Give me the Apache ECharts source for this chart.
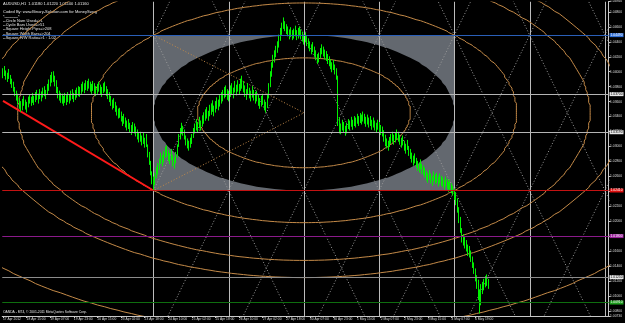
<!DOCTYPE html>
<html><head><meta charset="utf-8">
<script src="https://cdn.jsdelivr.net/npm/echarts@6/dist/echarts.min.js"></script>
<style>html,body{margin:0;padding:0;background:#000;}#c{width:625px;height:323px;}</style>
</head><body><div id="c"></div>
<script>
// ---- data ----
const timeLabels = ['17 Apr 2012','18 Apr 15:00','19 Apr 07:00','19 Apr 23:00','20 Apr 15:00','23 Apr 02:00','23 Apr 18:00','24 Apr 10:00','25 Apr 02:00','25 Apr 18:00','26 Apr 10:00','27 Apr 02:00','27 Apr 18:00','30 Apr 07:00','30 Apr 23:00','1 May 15:00','2 May 07:00','2 May 23:00','3 May 15:00','4 May 07:00','6 May 19:00'];
const barsPerLabel = 16;
const slotCount = 411;

const barHigh = [
1.0404,1.0407,1.0401,1.0398,1.0403,1.0395,1.0390,1.0386,1.0379,1.0374,
1.0370,1.0364,1.0360,1.0363,1.0367,1.0362,1.0359,1.0366,1.0369,1.0366,
1.0371,1.0367,1.0372,1.0375,1.0370,1.0376,1.0373,1.0378,1.0380,1.0375,
1.0383,1.0389,1.0395,1.0399,1.0400,1.0394,1.0388,1.0379,1.0374,1.0371,
1.0370,1.0367,1.0371,1.0368,1.0372,1.0369,1.0374,1.0376,1.0371,1.0375,
1.0378,1.0380,1.0379,1.0383,1.0386,1.0384,1.0388,1.0387,1.0390,1.0386,
1.0383,1.0387,1.0384,1.0380,1.0383,1.0386,1.0382,1.0379,1.0384,1.0386,
1.0380,1.0376,1.0372,1.0367,1.0362,1.0364,1.0359,1.0354,1.0350,1.0351,
1.0346,1.0340,1.0343,1.0338,1.0334,1.0336,1.0331,1.0328,1.0332,1.0330,
1.0326,1.0322,1.0318,1.0319,1.0314,1.0318,1.0311,1.0316,1.0302,1.0292,
1.0280,1.0266,1.0259,
1.0264,1.0272,1.0277,1.0283,1.0291,1.0288,1.0293,1.0299,1.0301,
1.0295,1.0291,1.0296,1.0288,1.0285,1.0292,1.0302,1.0316,1.0324,
1.0331,1.0327,1.0322,1.0314,1.0310,1.0307,1.0311,1.0316,1.0324,1.0330,
1.0336,1.0332,1.0339,1.0334,1.0341,1.0345,1.0349,1.0352,1.0347,1.0355,
1.0357,1.0361,1.0354,1.0360,1.0365,1.0362,1.0368,1.0372,1.0375,1.0379,
1.0381,1.0376,1.0374,1.0381,1.0384,1.0378,1.0387,1.0382,1.0388,1.0383,
1.0390,1.0394,1.0387,1.0381,1.0376,1.0384,1.0378,1.0374,1.0380,1.0375,
1.0372,1.0374,1.0368,1.0364,1.0367,1.0370,1.0362,1.0359,1.0370,1.0384,
1.0400,1.0412,1.0422,1.0428,1.0434,1.0440,1.0449,1.0458,1.0465,1.0472,
1.0467,1.0463,1.0460,1.0456,1.0459,1.0455,1.0457,1.0461,1.0455,1.0458,
1.0460,1.0456,1.0453,1.0449,1.0452,1.0447,1.0444,1.0440,1.0436,1.0439,
1.0433,1.0428,1.0423,1.0425,1.0431,1.0436,1.0433,1.0429,1.0427,1.0423,
1.0420,1.0416,1.0412,1.0415,1.0409,1.0404,1.0394,
1.0338,1.0330,1.0335,1.0332,1.0327,1.0331,1.0336,1.0334,1.0339,1.0335,
1.0340,1.0338,1.0343,1.0340,1.0344,1.0342,1.0346,1.0343,1.0339,1.0342,
1.0338,1.0340,1.0335,1.0338,1.0334,1.0331,1.0335,1.0332,1.0328,1.0326,
1.0321,1.0315,1.0310,1.0307,1.0312,1.0316,1.0319,1.0315,1.0318,1.0322,
1.0319,1.0315,1.0311,1.0314,1.0307,1.0303,1.0308,1.0300,1.0296,1.0291,
1.0287,1.0290,1.0284,1.0280,1.0278,1.0282,1.0276,1.0274,1.0271,1.0267,
1.0264,1.0268,1.0263,1.0260,1.0266,1.0262,1.0264,1.0259,1.0263,1.0260,
1.0258,1.0255,1.0259,1.0256,1.0252,1.0255,1.0250,1.0247,1.0243,1.0238,
1.0230,1.0218,1.0205,1.0190,1.0182,1.0178,1.0174,1.0168,1.0166,1.0160,
1.0152,1.0144,1.0136,1.0127,1.0121,1.0108,
1.0115,1.0118,1.0122,1.0126,1.0128,1.0122];

const barLow = [
1.0392,1.0395,1.0390,1.0387,1.0391,1.0384,1.0379,1.0374,1.0368,1.0362,
1.0357,1.0351,1.0347,1.0349,1.0355,1.0350,1.0346,1.0353,1.0358,1.0355,
1.0359,1.0356,1.0360,1.0363,1.0358,1.0364,1.0361,1.0366,1.0368,1.0364,
1.0370,1.0375,1.0381,1.0386,1.0387,1.0381,1.0372,1.0365,1.0362,1.0359,
1.0358,1.0355,1.0359,1.0356,1.0360,1.0358,1.0362,1.0364,1.0360,1.0363,
1.0366,1.0368,1.0367,1.0371,1.0374,1.0372,1.0376,1.0375,1.0378,1.0374,
1.0371,1.0375,1.0372,1.0368,1.0371,1.0374,1.0370,1.0367,1.0372,1.0374,
1.0368,1.0364,1.0360,1.0355,1.0350,1.0352,1.0347,1.0342,1.0338,1.0339,
1.0334,1.0328,1.0331,1.0326,1.0322,1.0324,1.0319,1.0316,1.0320,1.0318,
1.0314,1.0310,1.0306,1.0307,1.0302,1.0304,1.0299,1.0300,1.0286,1.0276,
1.0262,1.0250,1.0241,
1.0249,1.0258,1.0263,1.0269,1.0277,1.0274,1.0279,1.0285,1.0287,
1.0281,1.0277,1.0282,1.0274,1.0271,1.0278,1.0286,1.0300,1.0310,
1.0317,1.0315,1.0310,1.0302,1.0298,1.0295,1.0299,1.0304,1.0312,1.0318,
1.0322,1.0320,1.0325,1.0322,1.0327,1.0331,1.0335,1.0338,1.0335,1.0341,
1.0343,1.0347,1.0341,1.0346,1.0351,1.0349,1.0354,1.0358,1.0361,1.0365,
1.0367,1.0363,1.0361,1.0367,1.0370,1.0365,1.0373,1.0369,1.0374,1.0370,
1.0375,1.0378,1.0373,1.0367,1.0363,1.0370,1.0365,1.0361,1.0366,1.0362,
1.0358,1.0361,1.0355,1.0351,1.0354,1.0357,1.0349,1.0346,1.0352,1.0365,
1.0380,1.0394,1.0406,1.0413,1.0420,1.0426,1.0433,1.0442,1.0450,1.0458,
1.0455,1.0451,1.0448,1.0444,1.0447,1.0443,1.0445,1.0448,1.0443,1.0445,
1.0448,1.0444,1.0441,1.0437,1.0440,1.0435,1.0432,1.0428,1.0424,1.0427,
1.0421,1.0416,1.0411,1.0413,1.0419,1.0424,1.0421,1.0417,1.0415,1.0411,
1.0408,1.0404,1.0400,1.0403,1.0397,1.0390,1.0328,
1.0318,1.0317,1.0322,1.0320,1.0315,1.0318,1.0324,1.0322,1.0327,1.0323,
1.0328,1.0326,1.0331,1.0328,1.0332,1.0330,1.0334,1.0331,1.0327,1.0330,
1.0326,1.0328,1.0323,1.0326,1.0322,1.0319,1.0323,1.0320,1.0316,1.0314,
1.0307,1.0301,1.0298,1.0295,1.0300,1.0304,1.0307,1.0303,1.0306,1.0310,
1.0307,1.0303,1.0299,1.0302,1.0295,1.0291,1.0296,1.0288,1.0284,1.0279,
1.0275,1.0278,1.0272,1.0268,1.0266,1.0270,1.0264,1.0262,1.0259,1.0255,
1.0252,1.0256,1.0251,1.0248,1.0254,1.0250,1.0252,1.0247,1.0251,1.0248,
1.0246,1.0243,1.0247,1.0244,1.0240,1.0243,1.0238,1.0235,1.0229,1.0222,
1.0212,1.0198,1.0185,1.0172,1.0168,1.0164,1.0160,1.0154,1.0152,1.0146,
1.0138,1.0130,1.0120,1.0110,1.0095,1.0077,
1.0088,1.0103,1.0108,1.0112,1.0114,1.0110];

// square / cycle indicator parameters (from the on-chart text)
const squareStartBar = 102;
const squareWidthBars = 204;
const squareHeightPips = 208;
const squareLowPrice = 1.0241;
const cycleBars = 51;
const ringScales = [0.707, 1.414, 1.9, 2.121, 2.828];
const trendLine = [[0, 1.0361], [102, 1.0241]];
const hLinePrices = [1.0449, 1.0370, 1.0319, 1.0241, 1.0180, 1.0125, 1.0091];

const yMin = 1.0073, yMax = 1.0494;

const infoLines = ['Coded By: www.Binary-Solution.com for MoneySwag','*----------*','--Circle Num Used=>1','--Cycle Bars Used=>51','--Square Height Pips=>208','--Square Width Bars=>204','--Square H/W Ratio=>1 : 1.02'];
const titleLine = 'AUDUSD,H1  1.01180 1.01220 1.01100 1.01160';
const footerLine = 'OANDA - MT4, \u00a9 2001-2011 MetaQuotes Software Corp.';

// ---- styles ----
const FONT = 'Liberation Sans';
const hLineStyles = [
  {line:'#2a5fb8', bg:'#2f6fd8', fg:'#ffffff'},
  {line:'#b4b4b4', bg:'#e8e8e8', fg:'#000000'},
  {line:'#b4b4b4', bg:'#e8e8e8', fg:'#000000'},
  {line:'#c41212', bg:'#e01010', fg:'#ffffff'},
  {line:'#8a1a8a', bg:'#9a209a', fg:'#ffffff'},
  {line:'#8c8c8c', bg:'#e8e8e8', fg:'#000000'},
  {line:'#0f6e0f', bg:'#1e9e1e', fg:'#ffffff'}
];
const ringColor = '#c48a48';
const latticeColor = '#9a9a9a';

const cats = Array.from({length: slotCount}, (_, i) => String(i));
const barData = barHigh.map((h, i) => [i, barLow[i], h]);

function overlay(params, api) {
  const cs = params.coordSys;
  const H = squareHeightPips / 10000;
  const top = squareLowPrice + H;
  const cx = squareStartBar + squareWidthBars / 2;
  const cy = squareLowPrice + H / 2;
  const rx = squareWidthBars / 2, ry = H / 2;
  const P = (b, p) => api.coord([b, p]);
  const ell = (k, n) => {
    const pts = [];
    for (let t = 0; t <= n; t++) {
      const a = t / n * 2 * Math.PI;
      pts.push(P(cx + k * rx * Math.cos(a), cy + k * ry * Math.sin(a)));
    }
    return pts;
  };
  const kids = [];
  kids.push({type:'polygon', shape:{points:[P(squareStartBar, top), P(squareStartBar + squareWidthBars, top), P(squareStartBar + squareWidthBars, squareLowPrice), P(squareStartBar, squareLowPrice)]}, style:{fill:'#63686f'}});
  kids.push({type:'polygon', shape:{points: ell(1, 160)}, style:{fill:'#000000'}});
  for (let k = 0; k <= 6; k++) {
    const x = Math.round(P(squareStartBar + k * cycleBars, cy)[0]) + 0.5;
    kids.push({type:'line', shape:{x1:x, y1:cs.y, x2:x, y2:cs.y + cs.height}, style:{stroke:'#bcbcbc', lineWidth:1}});
  }
  for (let k = 0; k <= 11; k++) {
    const v = squareStartBar + k * cycleBars;
    const a1 = P(squareStartBar, top + H * k), a2 = P(v + cycleBars * 6, top - H * 6);
    const b1 = P(squareStartBar, top - H * k), b2 = P(v + cycleBars * 6, top + H * 6);
    kids.push({type:'line', shape:{x1:a1[0], y1:a1[1], x2:a2[0], y2:a2[1]}, style:{stroke:latticeColor, lineWidth:1, lineDash:[1,2]}});
    kids.push({type:'line', shape:{x1:b1[0], y1:b1[1], x2:b2[0], y2:b2[1]}, style:{stroke:latticeColor, lineWidth:1, lineDash:[1,2]}});
  }
  const c = P(cx, cy), tl = P(squareStartBar, top), bl = P(squareStartBar, squareLowPrice);
  kids.push({type:'polyline', shape:{points:[tl, c, bl]}, style:{stroke:ringColor, lineWidth:1, lineDash:[1,2], fill:null}});
  ringScales.forEach(k => kids.push({type:'polyline', shape:{points: ell(k, 360)}, style:{stroke:ringColor, lineWidth:1, fill:null}}));
  const t1 = P(trendLine[0][0], trendLine[0][1]), t2 = P(trendLine[1][0], trendLine[1][1]);
  kids.push({type:'line', shape:{x1:t1[0], y1:t1[1], x2:t2[0], y2:t2[1]}, style:{stroke:'#ff1a1a', lineWidth:2}});
  return {type:'group', children: kids};
}

function barItem(params, api) {
  const i = api.value(0);
  const p1 = api.coord([i, api.value(1)]);
  const p2 = api.coord([i, api.value(2)]);
  const x = Math.floor(p1[0]) + 0.5;
  return {type:'line', shape:{x1:x, y1:p1[1] + 0.5, x2:x, y2:p2[1] - 0.5}, style:{stroke:'#00f000', lineWidth:1}};
}

const chart = echarts.init(document.getElementById('c'), null, {renderer:'canvas'});
chart.setOption({
  backgroundColor:'#000000',
  animation:false,
  grid:{left:0, right:14, top:0, bottom:7},
  xAxis:{
    type:'category', data:cats, boundaryGap:true,
    axisLine:{lineStyle:{color:'#c8c8c8', width:1}},
    axisTick:{show:true, alignWithLabel:true, length:2, interval:(idx) => idx % barsPerLabel === 0 && idx / barsPerLabel < timeLabels.length, lineStyle:{color:'#c8c8c8'}},
    axisLabel:{interval:(idx) => idx % barsPerLabel === 0 && idx / barsPerLabel < timeLabels.length, formatter:(v, idx) => timeLabels[idx / barsPerLabel] || '', color:'#dcdcdc', fontSize:3.3, fontFamily:FONT, align:'left', margin:1.5},
    splitLine:{show:false}
  },
  yAxis:{
    type:'value', position:'right', min:yMin, max:yMax, splitNumber:21,
    axisLine:{show:true, lineStyle:{color:'#c8c8c8'}},
    axisTick:{show:true, length:2, lineStyle:{color:'#c8c8c8'}},
    axisLabel:{color:'#dcdcdc', fontSize:3.3, fontFamily:FONT, margin:1.5, formatter:v => v.toFixed(5)},
    splitLine:{show:false}
  },
  graphic:[
    {type:'text', left:3, top:2, style:{text:titleLine, fill:'#e6e6e6', fontSize:4, fontFamily:FONT}},
    {type:'text', left:3, top:10, style:{text:infoLines.join('\n'), fill:'#e6e6e6', fontSize:4, lineHeight:4.3, fontFamily:FONT}},
    {type:'text', left:3, top:311, style:{text:footerLine, fill:'#e6e6e6', fontSize:3.3, fontFamily:FONT}}
  ],
  series:[
    {type:'custom', name:'square', data:[[0, squareLowPrice]], renderItem:overlay, clip:true, silent:true, z:1},
    {type:'line', name:'levels', data:[], z:2, silent:true,
      markLine:{silent:true, precision:5, symbol:['none','none'], animation:false,
        data: hLinePrices.map((p, i) => ({yAxis:p, lineStyle:{color:hLineStyles[i].line, width:1, type:'solid'},
          label:{show:true, position:'end', distance:1, formatter:() => p.toFixed(5), backgroundColor:hLineStyles[i].bg, color:hLineStyles[i].fg, fontSize:3.3, fontFamily:FONT, padding:[0.6,1,0.4,1]}}))
      }},
    {type:'custom', name:'AUDUSD', data:barData, encode:{x:0, y:[1,2]}, renderItem:barItem, z:3, silent:true}
  ]
});
</script></body></html>
